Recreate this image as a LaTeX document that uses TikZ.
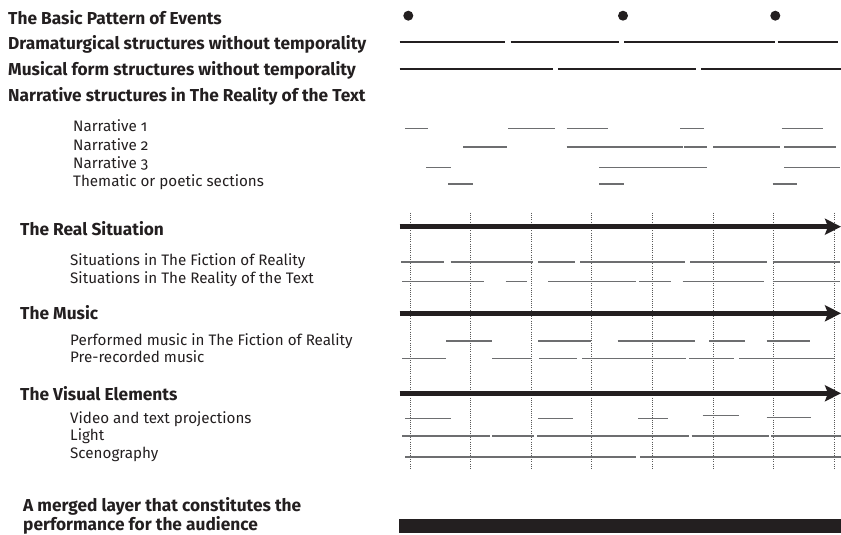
\documentclass[tikz,border=0pt]{standalone}
\usepackage{fontspec}
\setmainfont{Fira Sans}[Numbers=OldStyle]
\usetikzlibrary{arrows.meta}
\definecolor{ink}{HTML}{231F20}
\definecolor{segcol}{HTML}{6D6E70}

\begin{document}
\begin{tikzpicture}[x=1pt,y=-1pt]
\tikzstyle{head}=[anchor=base west,inner sep=0pt,text=ink,font=\fontsize{17.3}{17.4}\selectfont\bfseries];
\tikzstyle{sub}=[anchor=base west,inner sep=0pt,text=ink,font=\fontsize{15.2}{17}\selectfont];
\tikzstyle{track}=[draw=segcol,line width=1.3pt];
\tikzstyle{form}=[draw=ink,line width=1.6pt];
\tikzstyle{timeline}=[draw=ink,line width=5pt,-{Stealth[length=16pt,width=16pt,inset=3pt]}];

  \useasboundingbox (0,0) rectangle (841,535);

  % headings
  \node[head] (basic) at (8,25) {The Basic Pattern of Events};
  \node[head] (drama) at (8,50) {Dramaturgical structures without temporality};
  \node[head] (musform) at (8,76) {Musical form structures without temporality};
  \node[head] (narr) at (8,101) {Narrative structures in The Reality of the Text};
  \node[sub] (narr1) at (73,131.7) {Narrative 1};
  \node[sub] (narr2) at (73,150) {Narrative 2};
  \node[sub] (narr3) at (73,168.3) {Narrative 3};
  \node[sub] (theme) at (73,186.7) {Thematic or poetic sections};

  \node[head] (real) at (20,235) {The Real Situation};
  \node[sub] (fiction) at (70,265) {Situations in The Fiction of Reality};
  \node[sub] (reality) at (70,283.3) {Situations in The Reality of the Text};

  \node[head] (music) at (20,319) {The Music};
  \node[sub] (performed) at (70,345) {Performed music in The Fiction of Reality};
  \node[sub] (prerec) at (70,362.7) {Pre-recorded music};

  \node[head] (visual) at (20,400) {The Visual Elements};
  \node[sub] (video) at (70,423.3) {Video and text projections};
  \node[sub] (light) at (70,440.7) {Light};
  \node[sub] (sceno) at (70,458.3) {Scenography};

  \node[head,align=left] (merged) at (23,530) {A merged layer that constitutes the\\performance for the audience};

  % time grid
  \foreach \i in {0,...,7}
    \draw [gray!70!black,line width=0.8pt,dash pattern=on 1pt off 1.2pt] (410+60.6*\i,212.7) -- (410+60.6*\i,470);

  % events and structures
  \foreach \x in {408.3,623,775.3}
    \fill [ink] (\x,15.7) circle (5);
  \foreach \a/\b in {399.7/505.3, 510.7/618.7, 624.3/774.7, 777.7/838.3}
    \draw [form] (\a,42.3) -- (\b,42.3);
  \foreach \a/\b in {399.7/552.7, 558.3/696.3, 701.3/841}
    \draw [form] (\a,69) -- (\b,69);

  % narratives
  \foreach \a/\b in {405/428, 508.3/555.3, 566.7/607.7, 680.3/703.7, 781.7/823.3}
    \draw [track] (\a,128.5) -- (\b,128.5);
  \foreach \a/\b in {463.3/506.7, 566.7/682.7, 684/707.3, 713/779.7, 784/835.7}
    \draw [track] (\a,147) -- (\b,147);
  \foreach \a/\b in {426/450.7, 599/707.3, 784/839.7}
    \draw [track] (\a,167.5) -- (\b,167.5);
  \foreach \a/\b in {448.3/473, 599/623.7, 772.7/797.3}
    \draw [track] (\a,184) -- (\b,184);

  % real situation
  \draw [timeline] (399.7,226.7) -- (841,226.7);
  \foreach \a/\b in {401/444.3, 450.7/532.7, 538/575.3, 580.3/684.7, 690.3/767.3, 772.7/839.7}
    \draw [track] (\a,262) -- (\b,262);
  \foreach \a/\b in {402/484, 505.7/526.7, 548/636.3, 639.3/671, 682.7/763.7, 772.7/839.7}
    \draw [track] (\a,281.7) -- (\b,281.7);

  % music
  \draw [timeline] (399.7,313.3) -- (841,313.3);
  \foreach \a/\b in {446/492, 538/591, 617.7/694.7, 709.3/744.7, 766.7/810}
    \draw [track] (\a,341) -- (\b,341);
  \foreach \a/\b in {402/445.7, 492/532, 539.3/576.7, 582/686, 689.3/733.7, 739/833.7}
    \draw [track] (\a,358.3) -- (\b,358.3);

  % visual elements
  \draw [timeline] (399.7,393.3) -- (841,393.3);
  \foreach \a/\b/\y in {405/450.7/418.3, 538/572.7/418.3, 638/667.7/418.3, 702.7/738.7/415.7, 766.7/810.7/417.7}
    \draw [track] (\a,\y) -- (\b,\y);
  \foreach \a/\b in {402/490.3, 492/533.7, 537/689, 691.7/768.7, 771.3/841}
    \draw [track] (\a,436) -- (\b,436);
  \foreach \a/\b in {405/636.3, 640.3/841}
    \draw [track] (\a,457) -- (\b,457);

  % merged performance
  \fill [ink] (399.3,519.3) rectangle (841,533.3);

\end{tikzpicture}
\end{document}
